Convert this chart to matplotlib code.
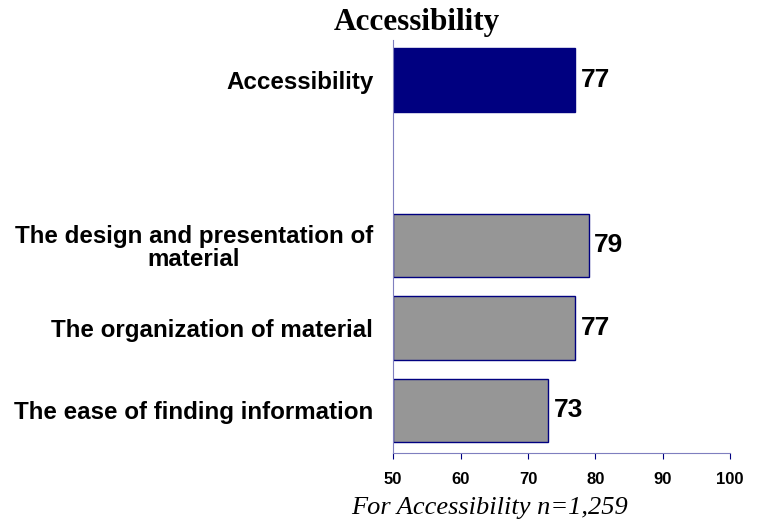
import matplotlib.pyplot as plt

# data
labels = ['The ease of finding information', 'The organization of material',
          'The design and presentation of\nmaterial', '', 'Accessibility']
values = [73, 77, 79, None, 77]
colors = ['#969696', '#969696', '#969696', 'white', '#000080']
ticks = [50, 60, 70, 80, 90, 100]

fig = plt.figure(figsize=(7.59, 5.24), dpi=100)
ax = fig.add_axes([0.518, 0.1355, 0.444, 0.788])

pos = list(range(len(labels)))
for p, v, c in zip(pos, values, colors):
    if v is None:
        continue
    ax.barh(p, v - 50, left=50, height=0.77, color=c, edgecolor='#000080', linewidth=1)
    ax.text(v + 0.8, p, str(v), va='center', ha='left', fontsize=19,
            fontweight='bold', family='Liberation Sans')

ax.set_xlim(50, 100)
ax.set_ylim(-0.515, 4.485)
ax.set_xticks(ticks)
ax.set_xticklabels([str(t) for t in ticks], fontsize=12, fontweight='bold', family='Liberation Sans')
ax.set_yticks(pos)
ax.set_yticklabels(labels, fontsize=17.4, fontweight='bold', family='Liberation Sans',
                   ha='right', multialignment='center', linespacing=1.0)
ax.tick_params(axis='y', length=0, pad=14.4)
ax.tick_params(axis='x', length=4, color='#000080', direction='out', pad=10)

for s in ['top', 'right']:
    ax.spines[s].set_visible(False)
ax.spines['left'].set_color('#7f7fbf')
ax.spines['bottom'].set_color('#7f7fbf')

fig.text(0.549, 0.958, 'Accessibility', ha='center', va='center', fontsize=22.5,
         fontweight='bold', family='Liberation Serif')
fig.text(0.6456, 0.0305, 'For Accessibility n=1,259', ha='center', va='center',
         fontsize=19, style='italic', family='Liberation Serif')

fig.savefig('out.png', dpi=100)
